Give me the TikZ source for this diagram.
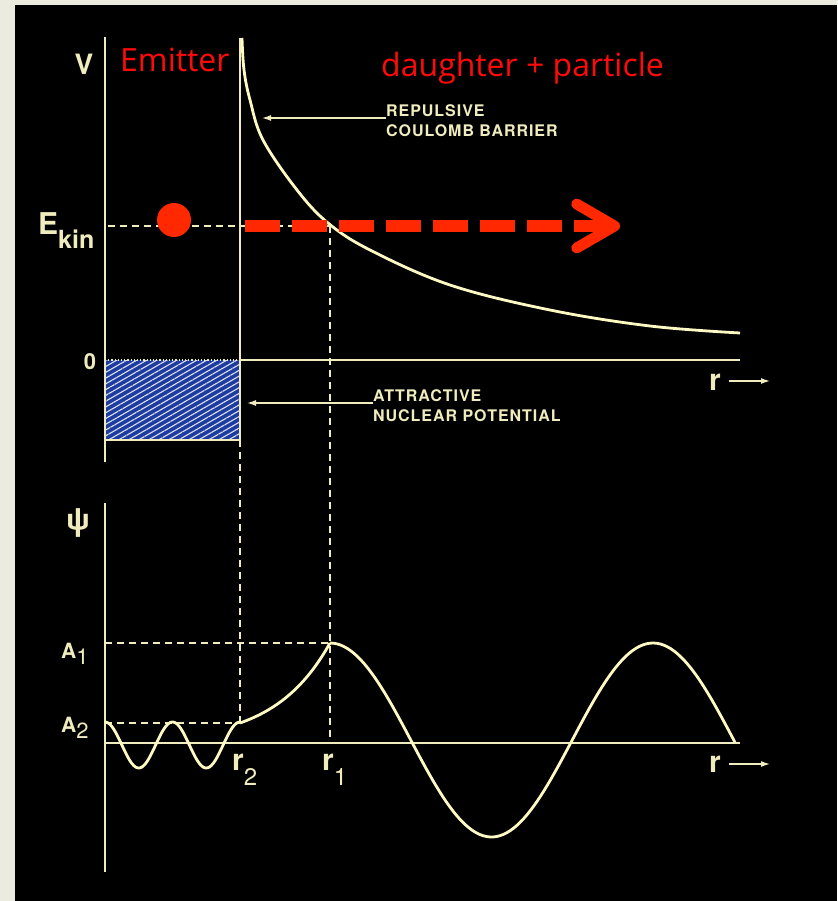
\documentclass[tikz,border=0pt]{standalone}
\usepackage{fontspec}
\setsansfont{TeX Gyre Heros}
\newfontfamily\notefont[LetterSpace=6.0]{TeX Gyre Heros}
\newfontfamily\redfont{Open Sans}
\usepackage{tikz}
\usetikzlibrary{arrows.meta, positioning, calc, patterns.meta}
\usepackage{xcolor}
\definecolor{lineCream}{RGB}{240, 236, 190}
\definecolor{curveCream}{RGB}{255, 250, 195}
\definecolor{emitRed}{RGB}{255, 10, 10}
\definecolor{arrowRed}{RGB}{255, 40, 0}
\definecolor{nucBlue}{RGB}{30, 60, 160}
\definecolor{frameGray}{RGB}{236, 235, 224}

\begin{document}
\begin{tikzpicture}[x=1pt, y=-1pt,
    axis/.style={draw=lineCream, line width=1.6pt},
    guide/.style={draw=lineCream, line width=1.3pt, dash pattern=on 7pt off 5pt},
    curve/.style={draw=curveCream, line width=2.8pt, line join=round},
    pointer/.style={-{Latex[length=9pt,width=6pt]}, draw=lineCream, line width=1.3pt},
    axlabel/.style={text=lineCream, font=\sffamily\bfseries, inner sep=0pt},
    notelabel/.style={text=lineCream, font=\notefont\bfseries\fontsize{16}{20}\selectfont, align=left, inner sep=0pt},
    redlabel/.style={text=emitRed, font=\redfont\fontsize{32}{36}\selectfont, inner sep=0pt},
    escape/.style={draw=arrowRed, line width=12pt, dash pattern=on 35pt off 12pt, -{Straight Barb[length=38pt, width=44pt, line width=0pt 0.9, round]}}
]

% Frame and black panel
\useasboundingbox (0,0) rectangle (837,901);
\fill[frameGray] (0,0) rectangle (837,901);
\fill[black] (15,5) rectangle (837,901);

% Potential panel
\coordinate (Vtop) at (105,37);
\coordinate (Vbot) at (105,462);
\coordinate (wallTop) at (240,38);
\coordinate (wallBot) at (240,440);
\coordinate (zeroWall) at (240,360);
\coordinate (zeroEnd) at (740,360);
\coordinate (ekinStart) at (108,226);
\coordinate (r1top) at (330,226);
\coordinate (escStart) at (245,226);
\coordinate (escEnd) at (620,226);

\fill[nucBlue] (105,360) rectangle (wallBot);
\fill[pattern={Lines[angle=30, distance=5pt, line width=1.1pt]}, pattern color=white!85!nucBlue] (105,360) rectangle (wallBot);
\draw[lineCream, line width=1.2pt, dotted] (105,360) -- (zeroWall);
\draw[axis] (105,440) -- (wallBot);

\draw[axis] (Vtop) -- (Vbot);
\draw[axis] (wallTop) -- (wallBot);
\draw[axis] (zeroWall) -- (zeroEnd);

\draw[curve] plot[smooth, tension=0.6] coordinates {(242,38) (244,70) (250,100) (263,140) (297,190) (328,223) (370,250) (450,285) (550,310) (650,326) (740,333)};

\draw[guide] (ekinStart) -- (r1top);
\node[circle, fill=arrowRed, minimum size=34pt, inner sep=0pt] (alpha) at (174,220) {};
\draw[escape] (escStart) -- (escEnd);

\node[axlabel, anchor=base] (Vlab) at (84,75) {\fontsize{28}{28}\selectfont V};
\node[axlabel, anchor=base west] (Ekin) at (38,234) {\fontsize{30}{30}\selectfont E\raisebox{-14pt}{\fontsize{25}{25}\selectfont kin}};
\node[axlabel, anchor=base] (zero) at (90,369) {\fontsize{22}{22}\selectfont 0};
\node[redlabel, anchor=base west] (emit) at (120,72) {Emitter};
\node[redlabel, anchor=base west] (daughter) at (381,77) {daughter + particle};

\node[notelabel, anchor=west] (repLab) at (386,121) {REPULSIVE\\COULOMB BARRIER};
\coordinate (repTip) at (262,118);
\draw[pointer] (repLab.west |- repTip) -- (repTip);
\node[notelabel, anchor=west] (attLab) at (373,406) {ATTRACTIVE\\NUCLEAR POTENTIAL};
\coordinate (attTip) at (247,403);
\draw[pointer] (attLab.west |- attTip) -- (attTip);

\node[axlabel, anchor=base west] (rUp) at (709,390) {\fontsize{30}{30}\selectfont r};
\coordinate (rUpEnd) at (770,381);
\draw[pointer, shorten <=8pt] (rUp.east |- rUpEnd) -- (rUpEnd);

% Wave panel
\coordinate (psiTop) at (105,503);
\coordinate (psiBot) at (105,872);
\coordinate (waveZero) at (105,743);
\coordinate (waveEnd) at (740,743);
\coordinate (r2pt) at (240,723);
\coordinate (r1pt) at (330,643);
\coordinate (r1base) at (330,743);

\draw[axis] (psiTop) -- (psiBot);
\draw[axis] (waveZero) -- (waveEnd);
\draw[guide] (wallBot) -- (r2pt);
\draw[guide] (r1top) -- (r1base);
\draw[guide] (105,643) -- (r1pt);
\draw[guide] (105,723) -- (r2pt);

\draw[curve] plot[domain=105:240, samples=90] (\x, {745-23*cos(5.3333*(\x-105))});
\draw[curve] plot[domain=240:330, samples=40] (\x, {723-80*(exp(0.018*(\x-240))-1)/(exp(1.62)-1)});
\draw[curve] plot[domain=330:735, samples=120] (\x, {740-97*cos(1.11455*(\x-330))});

\node[axlabel, anchor=center] (psi) at (78,523) {\fontsize{30}{30}\selectfont ψ};
\node[axlabel, anchor=base west] (A1lab) at (61,658) {\fontsize{21}{21}\selectfont A\raisebox{-6pt}{\mdseries\fontsize{22}{22}\selectfont 1}};
\node[axlabel, anchor=base west] (A2lab) at (61,732) {\fontsize{21}{21}\selectfont A\raisebox{-6pt}{\mdseries\fontsize{22}{22}\selectfont 2}};
\node[axlabel, anchor=base west] (r2lab) at (232,770) {\fontsize{30}{30}\selectfont r\raisebox{-15pt}{\mdseries\fontsize{24}{24}\selectfont 2}};
\node[axlabel, anchor=base west] (r1lab) at (322,770) {\fontsize{30}{30}\selectfont r\raisebox{-15pt}{\mdseries\fontsize{24}{24}\selectfont 1}};

\node[axlabel, anchor=base west] (rLow) at (709,772) {\fontsize{30}{30}\selectfont r};
\coordinate (rLowEnd) at (770,764);
\draw[pointer, shorten <=8pt] (rLow.east |- rLowEnd) -- (rLowEnd);

\end{tikzpicture}
\end{document}
